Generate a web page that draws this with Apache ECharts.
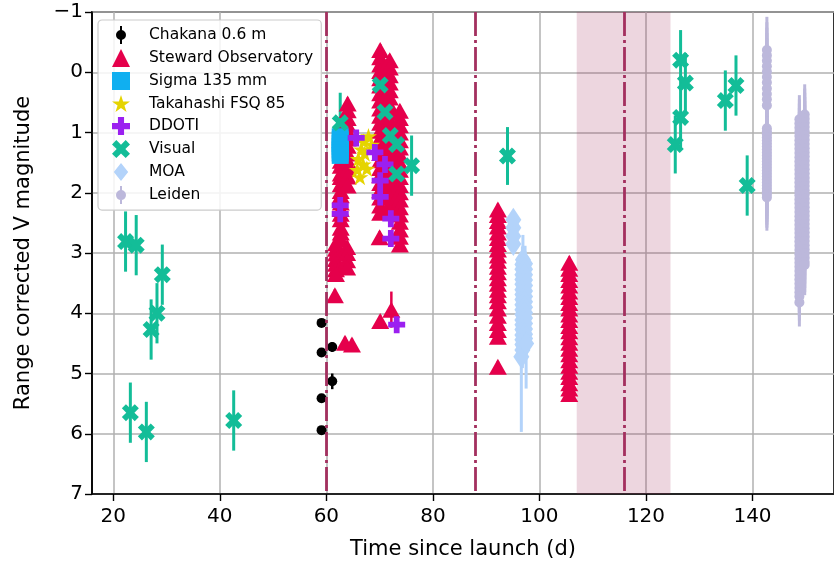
<!DOCTYPE html>
<html>
<head>
<meta charset="utf-8">
<script src="https://cdn.jsdelivr.net/npm/echarts@6/dist/echarts.min.js"></script>
<style>
  html, body { margin: 0; padding: 0; background: #fff; }
  #main { width: 834px; height: 565px; }
</style>
</head>
<body>
<div id="main"></div>
<script>
// ---- data ----
const xTicks = [20, 40, 60, 80, 100, 120, 140];
const eventDays = [60, 88, 116];
const shadedSpan = [107, 124.6];

// Chakana 0.6 m
const chakanaX = [59.1, 59.1, 59.1, 59.1, 61.1, 61.1];
const chakanaY = [4.16, 4.65, 5.41, 5.94, 4.56, 5.13];
const chakanaErr = [0.02, 0.02, 0.02, 0.02, 0.08, 0.13];

// Steward Observatory: dense columns (x of column, magnitudes in column)
const stewardColX = [62.7, 64.0, 61.8, 63.9, 70.1, 71.9, 73.8, 92.2, 105.6];
const stewardColY = [
  [0.93, 1.04, 1.12, 1.26, 1.33, 1.47, 1.55, 1.68, 1.74, 1.86, 1.97, 2.04, 2.16, 2.27, 2.35, 2.44, 2.58, 2.66, 2.77],
  [0.52, 0.63, 0.76, 0.87, 0.98, 1.1, 1.22, 1.35, 1.47, 1.6, 1.73, 1.88],
  [2.84, 2.93, 3.01, 3.1, 3.18, 3.27, 3.35],
  [2.9, 3.0, 3.12, 3.24],
  [-0.37, -0.25, -0.13, -0.02, 0.1, 0.22, 0.35, 0.47, 0.6, 0.72, 0.84, 0.97, 1.09, 1.22, 1.34, 1.46, 1.59, 1.71, 1.84, 1.96, 2.08, 2.21, 2.33],
  [-0.2, -0.08, 0.05, 0.17, 0.3, 0.42, 0.55, 0.67, 0.8, 0.92, 1.05, 1.18, 1.3, 1.43, 1.56, 1.68, 1.81, 1.93, 2.06, 2.18, 2.31],
  [0.64, 0.76, 0.88, 1.0, 1.13, 1.25, 1.37, 1.5, 1.62, 1.74, 1.87, 1.99, 2.11, 2.24, 2.36, 2.48, 2.61, 2.73, 2.86],
  [2.28, 2.37, 2.47, 2.56, 2.66, 2.75, 2.85, 2.94, 3.04, 3.13, 3.23, 3.32, 3.42, 3.51, 3.61, 3.7, 3.8, 3.92, 4.04, 4.16, 4.28, 4.39],
  [3.16, 3.26, 3.35, 3.45, 3.54, 3.64, 3.73, 3.83, 3.92, 4.02, 4.11, 4.21, 4.3, 4.4, 4.49, 4.59, 4.68, 4.78, 4.87, 4.97, 5.06, 5.16, 5.25, 5.34]
];
const stewardColErr = 0.1;
const stewardSingleX = [61.6, 63.5, 64.8, 70.1, 72.2, 70.0, 92.2];
const stewardSingleY = [3.7, 4.49, 4.52, 4.13, 3.94, 2.74, 4.89];
const stewardSingleErr = [0.1, 0.1, 0.1, 0.1, 0.3, 0.1, 0.1];

// Sigma 135 mm
const sigmaX = [62.6, 62.6, 62.6, 62.6, 62.6, 62.6, 62.6];
const sigmaY = [1.07, 1.12, 1.18, 1.23, 1.29, 1.34, 1.38];

// Takahashi FSQ 85
const takahashiX = [67.9, 68.5, 66.6, 67.2, 66.0, 66.9, 67.6, 66.3, 65.8, 67.0];
const takahashiY = [1.06, 1.2, 1.28, 1.35, 1.44, 1.53, 1.6, 1.74, 1.62, 1.15];

// DDOTI
const ddotiX = [65.6, 69.1, 71.0, 70.1, 70.1, 62.6, 62.6, 72.1, 72.1, 73.2];
const ddotiY = [1.09, 1.33, 1.53, 1.8, 2.07, 2.21, 2.35, 2.43, 2.76, 4.19];

// Visual
const visualX = [22.3, 24.3, 29.2, 28.2, 27.1, 23.2, 26.2, 42.6, 62.6, 70.1, 71.0, 72.0, 73.2, 73.2, 76.0, 94.0, 126.5, 127.4, 126.5, 125.5, 134.9, 136.9, 139.0];
const visualY = [2.81, 2.87, 3.36, 4.0, 4.27, 5.65, 5.97, 5.78, 0.84, 0.21, 0.66, 1.05, 1.2, 1.69, 1.55, 1.39, -0.2, 0.18, 0.75, 1.2, 0.47, 0.22, 1.88];
const visualErr = [0.5, 0.5, 0.5, 0.5, 0.5, 0.5, 0.5, 0.5, 0.5, 0, 0, 0, 0, 0, 0.5, 0.48, 0.5, 0.5, 0.5, 0.48, 0.5, 0.5, 0.5];

// MOA
const moaX = [95.1, 95.1, 95.1, 95.1,
  96.9, 96.8, 96.8, 96.8, 96.8, 96.8, 96.8, 96.8, 96.8, 96.8, 96.8, 96.8, 96.8, 96.8, 96.8, 96.8, 96.8, 96.8, 96.8, 96.6,
  97.3, 97.3, 97.3, 97.3, 97.3, 97.3, 97.3, 97.3, 97.3, 97.3, 97.3, 97.3, 97.3, 97.3, 97.3, 97.5];
const moaY = [2.45, 2.58, 2.72, 2.85,
  3.11, 3.19, 3.27, 3.36, 3.44, 3.52, 3.61, 3.69, 3.77, 3.86, 3.94, 4.02, 4.11, 4.19, 4.27, 4.36, 4.44, 4.52, 4.61, 4.72,
  3.18, 3.27, 3.36, 3.45, 3.54, 3.63, 3.72, 3.81, 3.9, 3.99, 4.08, 4.17, 4.26, 4.35, 4.42, 4.5];
const moaErr = [0.1, 0.1, 0.1, 0.1,
  0.41, 0.3, 0.3, 0.3, 0.3, 0.3, 0.3, 0.3, 0.3, 0.3, 0.3, 0.3, 0.3, 0.3, 0.3, 0.3, 0.3, 0.3, 0.3, 1.25,
  0.3, 0.3, 0.3, 0.3, 0.3, 0.3, 0.3, 0.3, 0.3, 0.3, 0.3, 0.3, 0.3, 0.3, 0.3, 0.75];

// Leiden
const leidenColX = [142.7, 148.8, 149.8];
const leidenColY = [
  [-0.37, -0.28, -0.19, -0.1, -0.01, 0.08, 0.17, 0.27, 0.36, 0.45, 0.55, 0.93, 0.98, 1.03, 1.08, 1.13, 1.18, 1.23, 1.28, 1.33, 1.38, 1.43, 1.48, 1.53, 1.58, 1.63, 1.68, 1.73, 1.78, 1.83, 1.88, 1.93, 1.98, 2.03, 2.08],
  [0.78, 0.85, 0.92, 0.99, 1.06, 1.13, 1.2, 1.27, 1.34, 1.41, 1.48, 1.55, 1.62, 1.69, 1.76, 1.83, 1.9, 1.97, 2.04, 2.11, 2.18, 2.25, 2.32, 2.39, 2.46, 2.53, 2.6, 2.67, 2.74, 2.81, 2.88, 2.95, 3.02, 3.09, 3.16, 3.23, 3.3, 3.37, 3.44, 3.51, 3.58, 3.65, 3.72, 3.82],
  [0.7, 0.77, 0.84, 0.91, 0.98, 1.05, 1.12, 1.19, 1.26, 1.33, 1.4, 1.47, 1.54, 1.61, 1.68, 1.75, 1.82, 1.89, 1.96, 2.03, 2.1, 2.17, 2.24, 2.31, 2.38, 2.45, 2.52, 2.59, 2.66, 2.73, 2.8, 2.87, 2.94, 3.01, 3.08, 3.15, 3.2]
];
const leidenColErr = [0.55, 0.4, 0.5];

// ---- marker shapes ----
const starPath = 'path://M50,0 L61.23,34.55 L97.55,34.55 L68.17,55.9 L79.39,90.45 L50,69.1 L20.61,90.45 L31.83,55.9 L2.45,34.55 L38.77,34.55 Z';
const plusPath = 'path://M3.3,0 L6.7,0 L6.7,3.3 L10,3.3 L10,6.7 L6.7,6.7 L6.7,10 L3.3,10 L3.3,6.7 L0,6.7 L0,3.3 L3.3,3.3 Z';
const xPath = 'path://M2.4,0 L5,2.6 L7.6,0 L10,2.4 L7.4,5 L10,7.6 L7.6,10 L5,7.4 L2.4,10 L0,7.6 L2.6,5 L0,2.4 Z';
const corners = ' M0,0 h0.01 v0.01 z M18,18 h-0.01 v-0.01 z';
const dotBarIcon = 'path://M8,0 h2 v18 h-2 z M4,9 a5,5 0 1,1 10,0 a5,5 0 1,1 -10,0 z' + corners;
const thinDiamondIcon = 'path://M9,0 L17,10 L9,20 L1,10 Z M0,0 h0.01 v0.01 z M18,20 h-0.01 v-0.01 z';

const C = {
  chakana: '#000000', steward: '#e5004b', sigma: '#10aff0', takahashi: '#e5d400',
  ddoti: '#9b20f0', visual: '#13bd98', moa: '#b3d3fa', leiden: '#bcb8db', event: '#a3305f'
};

// ---- series builders ----
const series = [];

function errSeries(name, color, xs, ys, errs, width) {
  series.push({
    name: name + ' err',
    type: 'custom',
    clip: true,
    silent: true,
    encode: { x: 0, y: [1, 2] },
    data: xs.map((x, i) => [x, ys[i] - errs[i], ys[i] + errs[i]]),
    renderItem: function (params, api) {
      const p1 = api.coord([api.value(0), api.value(1)]);
      const p2 = api.coord([api.value(0), api.value(2)]);
      return {
        type: 'line',
        shape: { x1: p1[0], y1: p1[1], x2: p2[0], y2: p2[1] },
        style: { stroke: color, lineWidth: width }
      };
    }
  });
}

function markerSeries(name, symbol, size, color, xs, ys) {
  series.push({
    name: name,
    type: 'scatter',
    symbol: symbol,
    symbolSize: size,
    symbolKeepAspect: true,
    clip: true,
    silent: true,
    itemStyle: { color: color, opacity: 1 },
    data: xs.map((x, i) => [x, ys[i]])
  });
}

// shaded window (drawn first, below data)
series.push({
  name: 'window', type: 'scatter', data: [], silent: true,
  markArea: {
    silent: true,
    itemStyle: { color: 'rgba(163,48,95,0.2)' },
    data: [[{ xAxis: shadedSpan[0] }, { xAxis: shadedSpan[1] }]]
  }
});

// Chakana
errSeries('Chakana 0.6 m', C.chakana, chakanaX, chakanaY, chakanaErr, 2.5);
markerSeries('Chakana 0.6 m', 'circle', 10, C.chakana, chakanaX, chakanaY);

// Steward
const stX = [], stY = [], stE = [];
stewardColX.forEach((x, c) => stewardColY[c].forEach(y => { stX.push(x); stY.push(y); stE.push(stewardColErr); }));
stewardSingleX.forEach((x, i) => { stX.push(x); stY.push(stewardSingleY[i]); stE.push(stewardSingleErr[i]); });
errSeries('Steward Observatory', C.steward, stX, stY, stE, 2.5);
markerSeries('Steward Observatory', 'triangle', [18, 16], C.steward, stX, stY);

// Sigma
markerSeries('Sigma 135 mm', 'rect', 17, C.sigma, sigmaX, sigmaY);
// Takahashi
markerSeries('Takahashi FSQ 85', starPath, 17, C.takahashi, takahashiX, takahashiY);
// DDOTI
markerSeries('DDOTI', plusPath, 17, C.ddoti, ddotiX, ddotiY);
// Visual
errSeries('Visual', C.visual, visualX, visualY, visualErr, 3);
markerSeries('Visual', xPath, 17, C.visual, visualX, visualY);
// MOA
errSeries('MOA', C.moa, moaX, moaY, moaErr, 3);
markerSeries('MOA', 'diamond', [16, 24], C.moa, moaX, moaY);
// Leiden
const lX = [], lY = [], lE = [];
leidenColX.forEach((x, c) => leidenColY[c].forEach(y => { lX.push(x); lY.push(y); lE.push(leidenColErr[c]); }));
errSeries('Leiden', C.leiden, lX, lY, lE, 3);
markerSeries('Leiden', 'circle', 10, C.leiden, lX, lY);

// event lines on top
series.push({
  name: 'events', type: 'scatter', data: [], silent: true, z: 10,
  markLine: {
    silent: true,
    symbol: 'none',
    label: { show: false },
    lineStyle: { color: C.event, width: 2.8, type: [24, 4, 3, 4] },
    data: eventDays.map(d => ({ xAxis: d }))
  }
});

const chart = echarts.init(document.getElementById('main'));
chart.setOption({
  animation: false,
  backgroundColor: '#fff',
  textStyle: { fontFamily: 'DejaVu Sans' },
  grid: {
    left: 92, right: -1, top: 12, bottom: 67,
    show: true, borderColor: '#000', borderWidth: 1.6, backgroundColor: 'transparent'
  },
  legend: {
    orient: 'vertical',
    left: 98, top: 20,
    padding: [6, 8, 6, 14],
    itemWidth: 18, itemHeight: 18, itemGap: 5,
    backgroundColor: 'rgba(255,255,255,0.85)',
    borderColor: '#cccccc', borderWidth: 1.2, borderRadius: 4,
    selectedMode: false,
    textStyle: { fontSize: 15.5, color: '#000', padding: [0, 0, 0, 14], fontFamily: 'DejaVu Sans' },
    data: [
      { name: 'Chakana 0.6 m', icon: dotBarIcon },
      { name: 'Steward Observatory' },
      { name: 'Sigma 135 mm' },
      { name: 'Takahashi FSQ 85' },
      { name: 'DDOTI' },
      { name: 'Visual' },
      { name: 'MOA', icon: thinDiamondIcon },
      { name: 'Leiden', icon: dotBarIcon }
    ]
  },
  xAxis: {
    type: 'value',
    min: 16, max: 155.3,
    name: 'Time since launch (d)',
    nameLocation: 'middle',
    nameGap: 45,
    nameTextStyle: { fontSize: 21, color: '#000', fontFamily: 'DejaVu Sans' },
    axisLine: { show: true, onZero: false, lineStyle: { color: '#000', width: 1.6 } },
    axisTick: { show: true, length: 7, lineStyle: { color: '#000', width: 1.4 }, customValues: xTicks },
    axisLabel: { fontSize: 20, color: '#000', margin: 13, customValues: xTicks, fontFamily: 'DejaVu Sans' },
    splitLine: { show: true, lineStyle: { color: '#b0b0b0', width: 1.5 } }
  },
  yAxis: {
    type: 'value',
    inverse: true,
    min: -1, max: 7, interval: 1,
    name: 'Range corrected V magnitude',
    nameLocation: 'middle',
    nameGap: 58,
    nameTextStyle: { fontSize: 21, color: '#000', fontFamily: 'DejaVu Sans' },
    axisLine: { show: true, onZero: false, lineStyle: { color: '#000', width: 1.6 } },
    axisTick: { show: true, length: 7, lineStyle: { color: '#000', width: 1.4 } },
    axisLabel: {
      fontSize: 20, color: '#000', margin: 9, fontFamily: 'DejaVu Sans',
      formatter: v => (v < 0 ? '\u2212' + Math.abs(v) : String(v))
    },
    splitLine: { show: true, lineStyle: { color: '#b0b0b0', width: 1.5 } }
  },
  series: series
});
</script>
</body>
</html>
